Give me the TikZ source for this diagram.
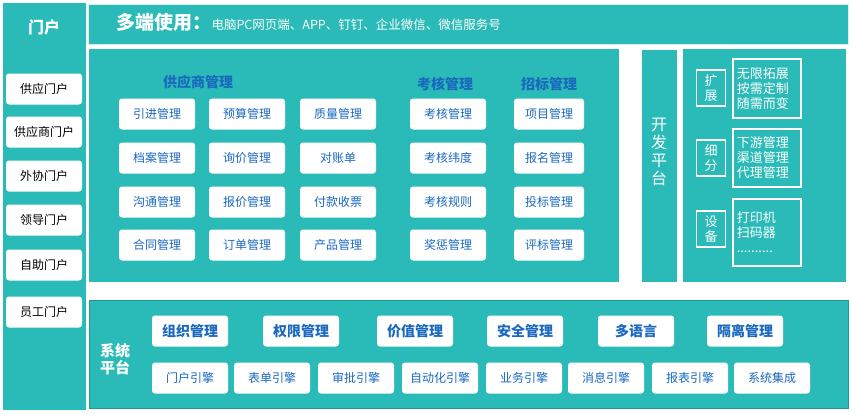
\documentclass[tikz,border=0pt]{standalone}
\usepackage{fontspec}
\setmainfont{Noto Sans CJK SC}
\usetikzlibrary{positioning}
\definecolor{teal1}{RGB}{42,187,184}
\definecolor{blue1}{RGB}{26,105,190}
\tikzset{
  panel/.style={fill=teal1,draw=none},
  wbox/.style={fill=white,rounded corners=3pt,minimum width=76pt,minimum height=31pt,text=blue1,font=\fontsize{12}{13}\selectfont,inner sep=0pt},
  pbox/.style={wbox,text=black},
  bbox/.style={wbox,font=\fontsize{14}{15}\selectfont\bfseries},
  head/.style={text=blue1,font=\fontsize{14}{15}\selectfont\bfseries},
  obox/.style={draw=white,line width=1.5pt,text=white,font=\fontsize{13}{15}\selectfont,align=left,inner sep=4pt}
}
\begin{document}
\begin{tikzpicture}[x=1pt,y=-1pt]
\useasboundingbox (0,0) rectangle (852,415);
% panels
\fill[panel] (3,3) rectangle (86,410);
\draw[panel,draw=white!80!teal1,line width=1pt] (88,4) rectangle (848,44);
\fill[panel] (89,49) rectangle (619,282);
\fill[panel] (642,50) rectangle (677,282);
\fill[panel] (683,49) rectangle (846,282);
\draw[panel,draw=teal1!80!black] (89,300) rectangle (848,408);

% titles
\node[text=white,font=\fontsize{16}{18}\selectfont\bfseries] (portal) at (44,27) {门户};
\node[anchor=west,text=white,font=\fontsize{12.5}{15}\selectfont] (multi) at (113,22)
  {{\fontsize{19}{20}\selectfont\bfseries 多端使用：}电脑PC网页端、APP、钉钉、企业微信、微信服务号};
\node[text=white,font=\fontsize{16}{18}\selectfont,align=center] (dev) at (659,152) {开\\发\\平\\台};
\node[text=white,font=\fontsize{15}{17}\selectfont\bfseries,align=center] (sys) at (115,359) {系统\\平台};

% portals
\foreach \t/\yy [count=\i] in {供应门户/89,供应商门户/132,外协门户/176,领导门户/220,自助门户/265,员工门户/312}
  \node[pbox,minimum width=76pt] (p\i) at (44,\yy) {\t};

% supplier
\node[head] (hsup) at (198,82) {供应商管理};
\node[head] (hexam) at (445,84) {考核管理};
\node[head] (hbid) at (549,84) {招标管理};
\foreach \a/\b/\c/\d/\e/\yy [count=\i] in {
  引进管理/预算管理/质量管理/考核管理/项目管理/114,
  档案管理/询价管理/对账单/考核纬度/报名管理/158,
  沟通管理/报价管理/付款收票/考核规则/投标管理/202,
  合同管理/订单管理/产品管理/奖惩管理/评标管理/245}{
  \node[wbox] (s\i a) at (157,\yy) {\a};
  \node[wbox] (s\i b) at (247,\yy) {\b};
  \node[wbox] (s\i c) at (338,\yy) {\c};
  \node[wbox] (s\i d) at (448,\yy) {\d};
  \node[wbox,minimum width=70pt] (s\i e) at (549,\yy) {\e};
}

% extension
\node[obox,text width=60pt,minimum height=59pt,anchor=north west] (ext) at (732,58) {无限拓展\\按需定制\\随需而变};
\node[obox,minimum width=29pt,minimum height=36pt] (extl) at (711,88) {扩\\展};
\node[obox,text width=60pt,minimum height=58pt,anchor=north west] (sub) at (732,128) {下游管理\\渠道管理\\代理管理};
\node[obox,minimum width=29pt,minimum height=36pt] (subl) at (711,158) {细\\分};
\node[obox,text width=60pt,minimum height=67pt,anchor=north west] (dev2) at (732,198) {打印机\\扫码器\\..........\\[2pt]};
\node[obox,minimum width=29pt,minimum height=36pt] (devl) at (711,229) {设\\备};

% system
\foreach \t/\x [count=\i] in {组织管理/190,权限管理/301,价值管理/415,安全管理/525,多语言/636,隔离管理/745}
  \node[bbox] (r\i) at (\x,331) {\t};
\foreach \t/\x [count=\i] in {门户引擎/190,表单引擎/272,审批引擎/356,自动化引擎/440,业务引擎/524,消息引擎/606,报表引擎/690,系统集成/772}
  \node[wbox,minimum width=76pt] (e\i) at (\x,378) {\t};
\end{tikzpicture}
\end{document}
